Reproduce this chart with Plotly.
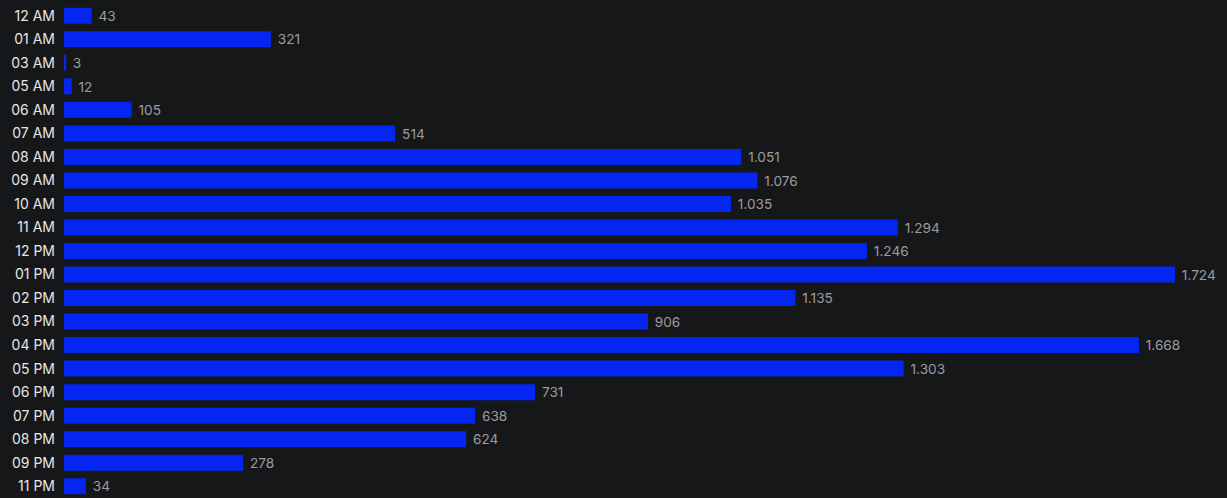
import plotly.graph_objects as go

hours = ["12 AM", "01 AM", "03 AM", "05 AM", "06 AM", "07 AM", "08 AM", "09 AM",
         "10 AM", "11 AM", "12 PM", "01 PM", "02 PM", "03 PM", "04 PM", "05 PM",
         "06 PM", "07 PM", "08 PM", "09 PM", "11 PM"]
counts = [43, 321, 3, 12, 105, 514, 1051, 1076, 1035, 1294, 1246, 1724,
          1135, 906, 1668, 1303, 731, 638, 624, 278, 34]

BG = "#161719"
BAR = "#0526f0"

fig = go.Figure(go.Bar(
    x=counts,
    y=hours,
    orientation="h",
    marker=dict(color=BAR, line=dict(width=0)),
    texttemplate=" %{x:,}",
    textposition="outside",
    outsidetextfont=dict(color="#9c9c9e", size=14.5, family="Inter"),
    cliponaxis=False,
    hoverinfo="skip",
))

fig.update_layout(
    width=1227,
    height=498,
    margin=dict(l=64, r=3, t=4, b=0),
    paper_bgcolor=BG,
    plot_bgcolor=BG,
    separators=",.",
    bargap=0.32,
    showlegend=False,
    font=dict(family="Inter", color="#e6e6e6", size=14),
    xaxis=dict(range=[0, 1800], visible=False, showgrid=False, zeroline=False),
    yaxis=dict(
        autorange="reversed",
        showgrid=False,
        zeroline=False,
        showline=False,
        ticks="",
        ticklabelstandoff=8,
        tickfont=dict(family="Inter", color="#e6e6e6", size=14),
    ),
)

fig.write_html("out.html")
